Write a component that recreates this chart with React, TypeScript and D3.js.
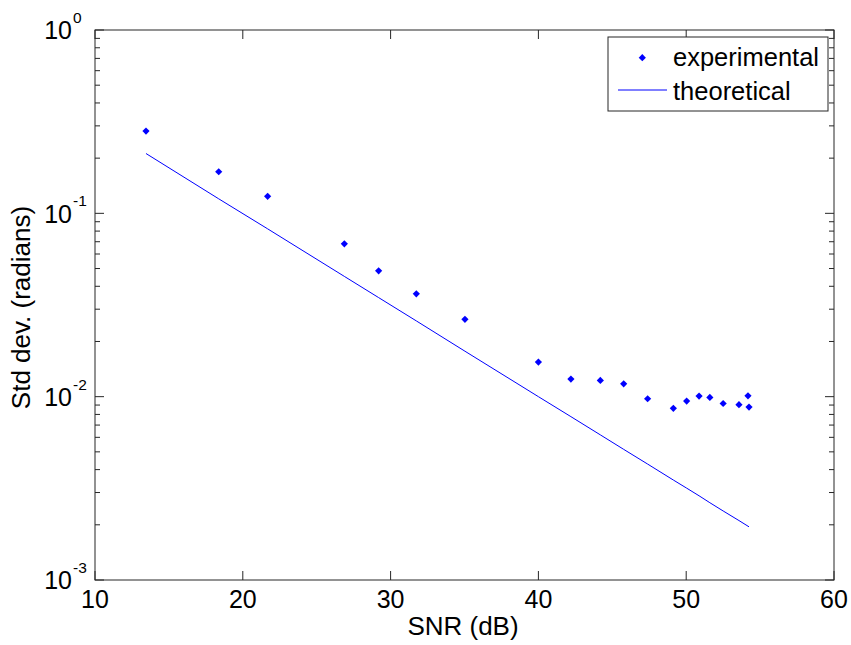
import React from "react";
import * as d3 from "d3";

const snr = [13.45, 18.37, 21.68, 26.87, 29.19, 31.74, 35.03, 40.0, 42.2, 44.19, 45.77, 47.39, 49.13, 50.03, 50.87, 51.6, 52.5, 53.57, 54.18, 54.25];
const experimental = [0.281, 0.1686, 0.1238, 0.0682, 0.0486, 0.0364, 0.0264, 0.01545, 0.01247, 0.01227, 0.01175, 0.00974, 0.00864, 0.00946, 0.01008, 0.0099, 0.00918, 0.00904, 0.0101, 0.00877];
const theorySnr = [13.45, 18.37, 21.68, 26.87, 29.19, 31.74, 35.03, 40.0, 42.2, 44.19, 45.77, 47.39, 49.13, 50.03, 50.87, 51.6, 52.5, 53.57, 54.25];
const theoretical = [0.212, 0.12, 0.0823, 0.0453, 0.0347, 0.0259, 0.0177, 0.01, 0.00778, 0.00619, 0.00516, 0.00429, 0.00351, 0.00317, 0.00288, 0.00264, 0.00238, 0.00211, 0.00195];
const xTicks = [10, 20, 30, 40, 50, 60];
const yDecades = [0, -1, -2, -3];
const seriesNames = ["experimental", "theoretical"];

const W = 851, H = 645;
const L = 95, R = 834, T = 30, B = 580;
const FONT = "'Liberation Sans', Arial, Helvetica, sans-serif";
const AX = "#262626";

export default function App() {
  const x = d3.scaleLinear().domain([10, 60]).range([L, R]);
  const y = d3.scaleLog().domain([1e-3, 1]).range([B, T]);
  const minor: number[] = [];
  for (let e = -3; e < 0; e++) {
    for (let m = 2; m <= 9; m++) minor.push(m * Math.pow(10, e));
  }
  const line = d3
    .line<number>()
    .x((_, i) => x(theorySnr[i]))
    .y((d) => y(d));
  const diamond = (cx: number, cy: number, r: number) =>
    `M${cx},${cy - r}L${cx + r},${cy}L${cx},${cy + r}L${cx - r},${cy}Z`;

  return (
    <svg width={W} height={H} style={{ position: "absolute", left: 0, top: 0, background: "#fff" }} fontFamily={FONT}>
      <rect x={0} y={0} width={W} height={H} fill="#fff" />
      <path d={line(theoretical) || ""} fill="none" stroke="#0000ff" strokeWidth={1} />
      {experimental.map((v, i) => (
        <path key={i} d={diamond(x(snr[i]), y(v), 3.6)} fill="#0000ff" />
      ))}
      <rect x={L} y={T} width={R - L} height={B - T} fill="none" stroke={AX} strokeWidth={1} />
      {xTicks.map((t) => (
        <g key={t}>
          <line x1={x(t)} x2={x(t)} y1={B} y2={B - 9} stroke={AX} />
          <line x1={x(t)} x2={x(t)} y1={T} y2={T + 9} stroke={AX} />
          <text x={x(t)} y={607.5} fontSize={25} textAnchor="middle" fill="#000">
            {t}
          </text>
        </g>
      ))}
      {yDecades.map((e) => {
        const ty = y(Math.pow(10, e));
        return (
          <g key={e}>
            <line x1={L} x2={L + 9} y1={ty} y2={ty} stroke={AX} />
            <line x1={R} x2={R - 9} y1={ty} y2={ty} stroke={AX} />
            <text x={72} y={ty + 9.3} fontSize={25} textAnchor="end" fill="#000">
              10
            </text>
            <text x={73} y={ty - 7} fontSize={15.5} textAnchor="start" fill="#000">
              {String(e)}
            </text>
          </g>
        );
      })}
      {minor.map((m, i) => (
        <g key={"m" + i}>
          <line x1={L} x2={L + 5} y1={y(m)} y2={y(m)} stroke={AX} />
          <line x1={R} x2={R - 5} y1={y(m)} y2={y(m)} stroke={AX} />
        </g>
      ))}
      <text x={463} y={635} fontSize={26} textAnchor="middle" fill="#000">
        SNR (dB)
      </text>
      <text transform={`translate(30,307.5) rotate(-90)`} fontSize={26} textAnchor="middle" fill="#000">
        Std dev. (radians)
      </text>
      <rect x={608} y={37} width={220} height={74} fill="#fff" stroke={AX} strokeWidth={1} />
      <path d={diamond(642.3, 57.7, 3.6)} fill="#0000ff" />
      <line x1={618} x2={667} y1={90} y2={90} stroke="#0000ff" strokeWidth={1} />
      <text x={673} y={65.5} fontSize={25.5} fill="#000">
        {seriesNames[0]}
      </text>
      <text x={673} y={100} fontSize={25.5} fill="#000">
        {seriesNames[1]}
      </text>
    </svg>
  );
}
